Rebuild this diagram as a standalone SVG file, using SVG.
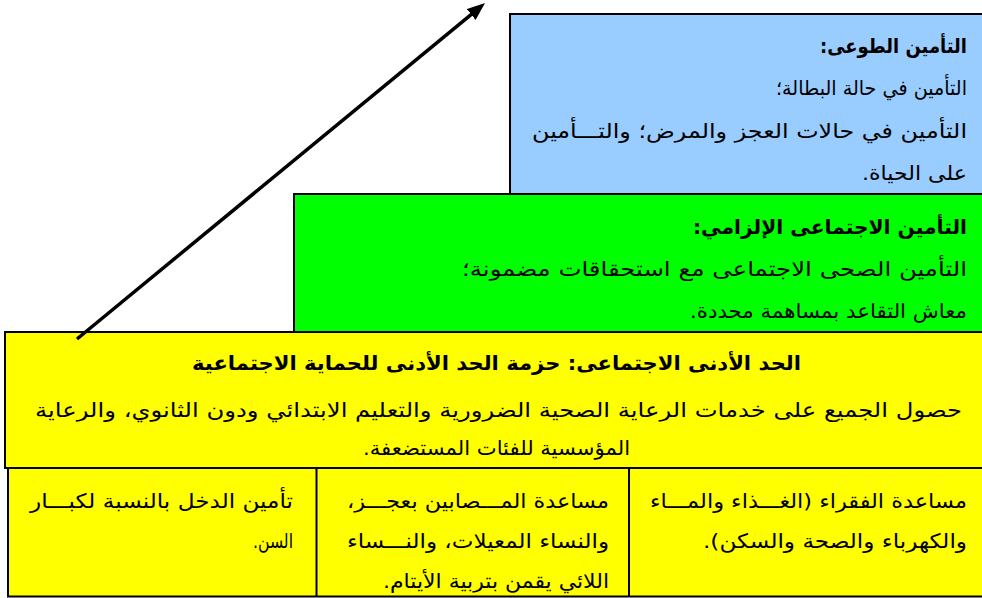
<svg xmlns="http://www.w3.org/2000/svg" width="982" height="598" viewBox="0 0 982 598">
<style>
.box{stroke:#000;stroke-width:2}
.blue{fill:#99CCFF}.green{fill:#00FF00}.yellow{fill:#FFFF00}
.t{font-family:"DejaVu Sans","Noto Sans",sans-serif;font-size:20px;fill:#000;direction:rtl;text-anchor:middle}
.b{font-weight:bold}
.conn{stroke:#000;stroke-width:3.5;fill:none}
</style>
<defs>
<marker id="ah" markerUnits="userSpaceOnUse" viewBox="0 0 18 14" markerWidth="18" markerHeight="14" refX="5" refY="7" orient="auto">
<path d="M0,0 L18,7 L0,14 z" fill="#000"/>
</marker>
</defs>
<rect width="982" height="598" fill="#fff"/>
<g id="voluntary">
<rect class="box blue" x="510" y="14" width="480" height="180"/>
<text class="t b" x="893.5" y="53" textLength="147" lengthAdjust="spacingAndGlyphs">التأمين الطوعى:</text>
<text class="t" x="871.5" y="95" textLength="191" lengthAdjust="spacingAndGlyphs">التأمين في حالة البطالة؛</text>
<text class="t" x="749.5" y="138" textLength="435" lengthAdjust="spacingAndGlyphs">التأمين في حالات العجز والمرض؛ والتـــأمين</text>
<text class="t" x="914.5" y="180" textLength="105" lengthAdjust="spacingAndGlyphs">على الحياة.</text>
</g>
<g id="mandatory">
<rect class="box green" x="294" y="194" width="700" height="138"/>
<text class="t b" x="830" y="234" textLength="274" lengthAdjust="spacingAndGlyphs">التأمين الاجتماعى الإلزامي:</text>
<text class="t" x="714.5" y="276" textLength="505" lengthAdjust="spacingAndGlyphs">التأمين الصحى الاجتماعى مع استحقاقات مضمونة؛</text>
<text class="t" x="828.5" y="318" textLength="277" lengthAdjust="spacingAndGlyphs">معاش التقاعد بمساهمة محددة.</text>
</g>
<g id="floor">
<rect class="box yellow" x="5" y="332" width="990" height="136"/>
<text class="t b" x="496.5" y="370" textLength="609" lengthAdjust="spacingAndGlyphs">الحد الأدنى الاجتماعى: حزمة الحد الأدنى للحماية الاجتماعية</text>
<text class="t" x="498.5" y="417" textLength="927" lengthAdjust="spacingAndGlyphs">حصول الجميع على خدمات الرعاية الصحية الضرورية والتعليم الابتدائي ودون الثانوي، والرعاية</text>
<text class="t" x="496.5" y="455" textLength="267" lengthAdjust="spacingAndGlyphs">المؤسسية للفئات المستضعفة.</text>
</g>
<g id="table">
<rect class="box yellow" x="8" y="468" width="990" height="128.5"/>
<line x1="316.5" y1="468" x2="316.5" y2="597" stroke="#000" stroke-width="2"/>
<line x1="629" y1="468" x2="629" y2="597" stroke="#000" stroke-width="2"/>
</g>
<g id="cell-poor">
<text class="t" x="808.5" y="508" textLength="317" lengthAdjust="spacingAndGlyphs">مساعدة الفقراء (الغـــذاء والمـــاء</text>
<text class="t" x="835" y="548" textLength="264" lengthAdjust="spacingAndGlyphs">والكهرباء والصحة والسكن).</text>
</g>
<g id="cell-disabled">
<text class="t" x="478" y="508" textLength="262" lengthAdjust="spacingAndGlyphs">مساعدة المـــصابين بعجـــز،</text>
<text class="t" x="478" y="548" textLength="262" lengthAdjust="spacingAndGlyphs">والنساء المعيلات، والنـــساء</text>
<text class="t" x="496" y="588" textLength="226" lengthAdjust="spacingAndGlyphs">اللائي يقمن بتربية الأيتام.</text>
</g>
<g id="cell-elderly">
<text class="t" x="161.5" y="508" textLength="263" lengthAdjust="spacingAndGlyphs">تأمين الدخل بالنسبة لكبـــار</text>
<text class="t" x="273" y="548" textLength="40" lengthAdjust="spacingAndGlyphs">السن.</text>
</g>
<g id="connectors">
<line class="conn" x1="77" y1="339" x2="475" y2="11.3" marker-end="url(#ah)"/>
</g>
</svg>
